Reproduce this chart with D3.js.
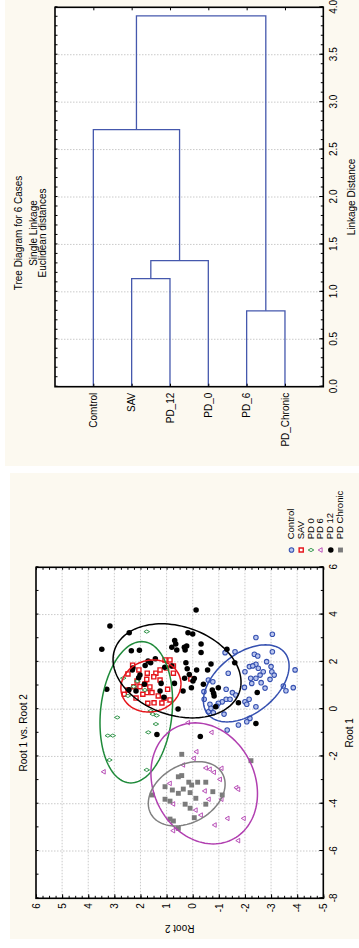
<!DOCTYPE html>
<html>
<head>
<meta charset="utf-8">
<script src="https://cdn.jsdelivr.net/npm/d3@7"></script>
<style>
  body { margin: 0; background: #ffffff; }
  svg { display: block; font-family: "Liberation Sans", Arial, sans-serif; }
</style>
</head>
<body>
<svg id="chart" width="359" height="948"></svg>
<script>
// ---------- Tree diagram data ----------
const leafNames = ["Comtrol", "SAV", "PD_12", "PD_0", "PD_6", "PD_Chronic"];
const joinLeft = ["SAV", "PD_6", "SAV|PD_12", "Comtrol", "Comtrol|SAV|PD_12|PD_0"];
const joinRight = ["PD_12", "PD_Chronic", "PD_0", "SAV|PD_12|PD_0", "PD_6|PD_Chronic"];
const joinDistance = [1.14, 0.80, 1.33, 2.71, 3.91];
const distanceTicks = [0, 0.5, 1, 1.5, 2, 2.5, 3, 3.5, 4];
const treeTitle = ["Tree Diagram for 6 Cases", "Single Linkage", "Euclidean distances"];

// ---------- Canonical scores ----------
const groupNames = ["Control", "SAV", "PD 0", "PD 6", "PD 12", "PD Chronic"];

const controlRoot1 = [3.03,3.17,2.32,2.25,2.43,2.43,2.39,1.80,2.01,1.90,1.73,1.58,1.80,1.58,1.44,1.66,1.52,1.58,1.31,1.44,1.31,1.12,1.09,1.26,1.16,1.23,0.92,0.84,0.70,0.98,0.91,0.78,0.74,0.60,0.42,0.42,0.31,0.25,0.31,0.42,0.10,0.21,0.21,0.13,0.42,-0.11,-0.21,-0.15,-0.39,-0.53,-0.67,-0.88,0.04,1.83,0.89];
const controlRoot2 = [-2.42,-3.05,-2.36,-2.49,-3.05,-1.62,-1.24,-2.17,-2.83,-2.42,-2.51,-2.70,-3.00,-3.03,-3.12,-3.92,-1.36,-2.00,-2.22,-2.58,-2.42,-2.62,-2.26,-2.96,-0.77,-0.60,-1.98,-1.28,-1.52,-3.47,-3.85,-3.57,-0.43,-1.65,-1.28,-1.43,-1.13,-0.98,-2.00,-2.16,-2.42,-2.07,-0.66,-0.92,-0.44,-0.60,-1.20,-0.79,-2.19,-2.07,-1.75,-1.32,-0.70,-2.30,-2.77];

const savRoot1 = [1.86,1.66,1.52,1.52,1.37,1.26,0.95,0.70,0.70,0.56,0.84,0.63,0.25,0.27,2.08,1.83,1.74,0.63,0.95,1.06,1.52,0.46,1.66,1.28,0.81,1.19,0.94,1.23,0.26,0.47,0.39,1.49,2.08];
const savRoot2 = [2.30,2.06,1.74,1.41,1.49,1.76,2.02,1.76,1.56,1.32,0.96,1.91,1.72,1.48,0.87,0.74,1.00,2.62,2.25,1.83,0.74,1.10,1.25,0.07,2.48,2.13,1.64,1.25,1.18,2.17,0.87,2.48,1.06];

const pd0Root1 = [3.28,1.31,1.19,0.95,-0.08,-0.21,-0.27,-0.63,-0.35,-1.12,-1.12,-0.98,-2.15,-2.57,0.81,0.56];
const pd0Root2 = [1.76,2.66,2.12,2.26,1.61,1.53,1.38,1.41,2.89,3.25,3.06,1.70,3.19,1.76,1.83,2.48];

const pd6Root1 = [-0.57,-0.98,-1.80,-2.08,-2.36,-2.49,-2.54,-2.67,-2.50,-2.97,-3.14,-3.32,-3.39,-3.46,-3.81,-3.81,-4.01,-4.27,-4.48,-4.62,-4.62,-4.90,-5.14,-5.56,-2.65];
const pd6Root2 = [0.17,-0.73,-0.15,-0.05,0.36,-0.51,-0.66,-0.82,-1.11,-1.05,0.87,-1.68,-1.75,-0.47,-0.62,-1.11,0.74,-0.12,-0.32,-1.34,-1.96,-0.85,0.74,-1.75,3.40];

const pd12Root1 = [3.52,3.23,2.53,2.47,2.49,2.13,1.66,1.85,1.96,1.33,1.05,0.84,0.82,0.77,0.77,0.50,1.77,1.83,1.09,0.01,0.77,1.31,0.91,1.19,1.71,1.96,4.19,3.23,3.18,2.90,2.76,2.62,2.62,2.67,2.50,2.50,2.76,2.40,1.66,-1.16,-1.07,1.91,1.66,2.53,1.96,1.47,1.30,1.05,0.81,0.67,0.91,0.56,0.10,0.27,-0.61,0.70,1.09,1.44,2.04,1.74];
const pd12Root2 = [3.17,2.43,3.48,2.35,2.04,1.43,2.31,1.82,1.61,2.07,1.85,3.29,2.44,2.17,1.25,1.10,1.07,0.80,0.70,0.56,0.37,0.31,0.05,-0.01,0.21,0.26,-0.13,0.18,0.00,0.69,0.65,0.80,0.32,0.23,0.29,0.61,-0.32,-0.32,-0.15,-0.29,1.37,-0.70,-0.57,-1.31,-1.61,0.13,-0.06,-0.41,-0.75,-0.80,-0.98,-0.82,-0.88,-1.75,-2.42,-2.47,1.21,2.02,1.71,2.29];

const chronicRoot1 = [-1.91,-2.18,-2.86,-2.81,-3.28,-3.42,-3.09,-3.21,-3.09,-3.09,-3.38,-3.56,-3.53,-3.49,-3.63,-3.63,-3.77,-3.81,-3.89,-4.02,-4.19,-4.02,-4.59,-4.65,-4.73,-5.04];
const chronicRoot2 = [0.42,-2.23,0.55,0.42,1.06,0.78,0.15,0.04,-0.19,-0.50,0.36,0.55,0.10,-0.77,1.55,-1.13,-0.12,1.06,0.87,0.29,0.10,-0.50,-0.06,0.87,0.74,0.55];

// 95% ellipse per group (centre, half-extent along each root, correlation)
const ellipseCenter1 = [1.09, 0.98, -0.13, -3.14, 1.62, -3.58];
const ellipseCenter2 = [-2.05, 1.60, 2.16, -0.44, 0.60, 0.23];
const ellipseHalf1 = [1.63, 1.10, 2.99, 2.56, 1.99, 1.36];
const ellipseHalf2 = [1.64, 1.15, 1.39, 2.04, 2.45, 1.47];
const ellipseRho = [-0.45, -0.08, -0.15, 0.17, 0.24, -0.30];

const root1Ticks = [-8, -6, -4, -2, 0, 2, 4, 6];
const root2Ticks = [-5, -4, -3, -2, -1, 0, 1, 2, 3, 4, 5, 6];

// ---------- Styles ----------
const groupRoot1 = [controlRoot1, savRoot1, pd0Root1, pd6Root1, pd12Root1, chronicRoot1];
const groupRoot2 = [controlRoot2, savRoot2, pd0Root2, pd6Root2, pd12Root2, chronicRoot2];
const groupStroke = ["#3550b0", "#e5161c", "#1f8a3a", "#b13fb0", "#000000", "#7b7b7b"];
const groupFill = ["#b9c5ee", "#ffffff", "#ffffff", "#ffffff", "#000000", "#7b7b7b"];
const groupSymbol = [d3.symbolCircle, d3.symbolSquare, d3.symbolDiamond, d3.symbolTriangle, d3.symbolCircle, d3.symbolSquare];
const groupSize = [16, 17, 9, 9, 24, 24];
const groupStrokeWidth = [1.1, 1.4, 0.9, 0.9, 0, 0];
const ellipseStroke = ["#3550b0", "#e5161c", "#1f8a3a", "#b13fb0", "#000000", "#808080"];

const panelFill = "#fcf9f0";
const gridColor = "#bdbdbd";
const fontSize = 10;
const plainNumber = d => String(d);   // hyphen-minus, as printed on the axes

const svg = d3.select("#chart");

// Panel backgrounds
svg.append("rect").attr("x", 5).attr("y", 0).attr("width", 354).attr("height", 466).attr("fill", panelFill);
svg.append("rect").attr("x", 10).attr("y", 473).attr("width", 349).attr("height", 466).attr("fill", panelFill);

// ================= Tree diagram (drawn in its own frame, turned a quarter) =================
const dW = 379.4, dH = 268.3;
const tree = svg.append("g").attr("transform", "translate(55,386.7) rotate(-90)");
const dist = d3.scaleLinear().domain([0, 4]).range([0, dW]);
const leafPos = d3.scalePoint().domain(leafNames).range([0, dH]).padding(1);

tree.append("rect").attr("width", dW).attr("height", dH).attr("fill", "#ffffff");

// grid
tree.append("g").selectAll("line")
  .data(distanceTicks.filter(d => d > 0 && d < 4))
  .join("line")
  .attr("x1", d => dist(d)).attr("x2", d => dist(d))
  .attr("y1", 0).attr("y2", dH)
  .attr("stroke", gridColor).attr("stroke-width", 0.8).attr("stroke-dasharray", "1.5,1.5");

// links
const nodes = {};
leafNames.forEach(n => { nodes[n] = { pos: leafPos(n), h: 0 }; });
joinLeft.forEach((a, i) => {
  const b = joinRight[i];
  const na = nodes[a], nb = nodes[b], h = joinDistance[i];
  const p = d3.path();
  p.moveTo(dist(na.h), na.pos);
  p.lineTo(dist(h), na.pos);
  p.lineTo(dist(h), nb.pos);
  p.lineTo(dist(nb.h), nb.pos);
  tree.append("path").attr("d", p.toString())
    .attr("fill", "none").attr("stroke", "#4558ad").attr("stroke-width", 1.3);
  nodes[a + "|" + b] = { pos: (na.pos + nb.pos) / 2, h: h };
});

// distance axis (labelled side) and minor ticks
const minorDist = d3.range(0, 41).map(i => i / 10);
tree.append("g").attr("transform", `translate(0,${dH})`)
  .call(d3.axisBottom(dist).tickValues(distanceTicks).tickFormat(d3.format(".1f"))
    .tickSizeInner(-4).tickSizeOuter(0).tickPadding(7));
tree.append("g").attr("transform", `translate(0,${dH})`)
  .call(d3.axisBottom(dist).tickValues(minorDist).tickFormat("").tickSizeInner(-2.5).tickSizeOuter(0));
tree.append("g")
  .call(d3.axisTop(dist).tickValues(minorDist).tickFormat("").tickSizeInner(-2.5).tickSizeOuter(0));

// leaf axis
tree.append("g")
  .call(d3.axisLeft(leafPos).tickSizeInner(-3).tickSizeOuter(0).tickPadding(6));
tree.append("g").attr("transform", `translate(${dW},0)`)
  .call(d3.axisRight(leafPos).tickFormat("").tickSizeInner(-3).tickSizeOuter(0));

tree.selectAll(".domain").remove();
tree.selectAll(".tick line").attr("stroke", "#000").attr("stroke-width", 1);
tree.selectAll(".tick text").attr("fill", "#000").attr("font-size", fontSize)
  .attr("font-family", "Liberation Sans, Arial, sans-serif");

// frame
tree.append("rect").attr("width", dW).attr("height", dH)
  .attr("fill", "none").attr("stroke", "#000").attr("stroke-width", 1.6);

// axis title
tree.append("text").attr("x", dW / 2).attr("y", dH + 32)
  .attr("text-anchor", "middle").attr("font-size", fontSize).text("Linkage Distance");

// chart title
const titleBase = [-33.5, -18.5, -9.3];
treeTitle.forEach((t, i) => {
  tree.append("text").attr("x", 153.7).attr("y", titleBase[i])
    .attr("text-anchor", "middle").attr("font-size", fontSize).text(t);
});

// ================= Scatterplot of canonical scores (turned a quarter) =================
const sW = 331, sH = 287.3;
const plot = svg.append("g").attr("transform", "translate(36,898.3) rotate(-90)");
const root1 = d3.scaleLinear().domain([-8, 6]).range([0, sW]);
const root2 = d3.scaleLinear().domain([-5, 6]).range([sH, 0]);

plot.append("rect").attr("width", sW).attr("height", sH).attr("fill", "#ffffff");

// grid
plot.append("g").selectAll("line")
  .data(root1Ticks.filter(d => d > -8 && d < 6))
  .join("line")
  .attr("x1", d => root1(d)).attr("x2", d => root1(d))
  .attr("y1", 0).attr("y2", sH)
  .attr("stroke", gridColor).attr("stroke-width", 0.8).attr("stroke-dasharray", "1.5,1.5");
plot.append("g").selectAll("line")
  .data(root2Ticks.filter(d => d > -5 && d < 6))
  .join("line")
  .attr("x1", 0).attr("x2", sW)
  .attr("y1", d => root2(d)).attr("y2", d => root2(d))
  .attr("stroke", gridColor).attr("stroke-width", 0.8).attr("stroke-dasharray", "1.5,1.5");

// axes
const minor1 = d3.range(-8, 7);
const minor2 = d3.range(-20, 25).map(i => i / 4);
plot.append("g").attr("transform", `translate(0,${sH})`)
  .call(d3.axisBottom(root1).tickValues(root1Ticks).tickFormat(plainNumber)
    .tickSizeInner(-4).tickSizeOuter(0).tickPadding(6.5));
plot.append("g").attr("transform", `translate(0,${sH})`)
  .call(d3.axisBottom(root1).tickValues(minor1).tickFormat("").tickSizeInner(-2.5).tickSizeOuter(0));
plot.append("g")
  .call(d3.axisTop(root1).tickValues(minor1).tickFormat("").tickSizeInner(-2.5).tickSizeOuter(0));
plot.append("g")
  .call(d3.axisLeft(root2).tickValues(root2Ticks).tickFormat(plainNumber)
    .tickSizeInner(-4).tickSizeOuter(0).tickPadding(5));
plot.append("g")
  .call(d3.axisLeft(root2).tickValues(minor2).tickFormat("").tickSizeInner(-2.5).tickSizeOuter(0));
plot.append("g").attr("transform", `translate(${sW},0)`)
  .call(d3.axisRight(root2).tickValues(minor2).tickFormat("").tickSizeInner(-2.5).tickSizeOuter(0));

plot.selectAll(".domain").remove();
plot.selectAll(".tick line").attr("stroke", "#000").attr("stroke-width", 1);
plot.selectAll(".tick text").attr("fill", "#000").attr("font-size", fontSize)
  .attr("font-family", "Liberation Sans, Arial, sans-serif");

// points
const symbolGen = d3.symbol();
groupNames.forEach((g, gi) => {
  const pts = groupRoot1[gi].map((r1, k) => [r1, groupRoot2[gi][k]]);
  plot.append("g").selectAll("path")
    .data(pts)
    .join("path")
    .attr("transform", d => `translate(${root1(d[0])},${root2(d[1])})`)
    .attr("d", symbolGen.type(groupSymbol[gi]).size(groupSize[gi])())
    .attr("fill", groupFill[gi])
    .attr("stroke", groupStrokeWidth[gi] > 0 ? groupStroke[gi] : "none")
    .attr("stroke-width", groupStrokeWidth[gi]);
});

// ellipses
const ellipseLine = d3.line()
  .x(d => root1(d[0])).y(d => root2(d[1]))
  .curve(d3.curveLinearClosed);
groupNames.forEach((g, gi) => {
  const c1 = ellipseCenter1[gi], c2 = ellipseCenter2[gi];
  const a = ellipseHalf1[gi], b = ellipseHalf2[gi], r = ellipseRho[gi];
  const s = Math.sqrt(1 - r * r);
  const ring = d3.range(0, 120).map(k => {
    const t = k / 120 * 2 * Math.PI;
    return [c1 + a * Math.cos(t), c2 + b * (r * Math.cos(t) + s * Math.sin(t))];
  });
  plot.append("path").attr("d", ellipseLine(ring))
    .attr("fill", "none").attr("stroke", ellipseStroke[gi]).attr("stroke-width", 1.5);
});

// frame
plot.append("rect").attr("width", sW).attr("height", sH)
  .attr("fill", "none").attr("stroke", "#000").attr("stroke-width", 1.6);

// titles
plot.append("text").attr("x", sW / 2).attr("y", -9)
  .attr("text-anchor", "middle").attr("font-size", fontSize).text("Root 1 vs. Root 2");
plot.append("text").attr("x", sW / 2).attr("y", 316.5)
  .attr("text-anchor", "middle").attr("font-size", fontSize).text("Root 1");
plot.append("text").attr("transform", `translate(-26.2,${sH / 2}) rotate(-90)`)
  .attr("text-anchor", "middle").attr("font-size", fontSize).text("Root 2");

// legend
const legendBase = [258, 267.7, 277.5, 287.3, 297.3, 307];
const legend = plot.append("g");
groupNames.forEach((g, gi) => {
  legend.append("path")
    .attr("transform", `translate(348.3,${legendBase[gi] - 2.5})`)
    .attr("d", symbolGen.type(groupSymbol[gi]).size(groupSize[gi])())
    .attr("fill", groupFill[gi])
    .attr("stroke", groupStrokeWidth[gi] > 0 ? groupStroke[gi] : "none")
    .attr("stroke-width", groupStrokeWidth[gi]);
  legend.append("text").attr("x", 359).attr("y", legendBase[gi])
    .attr("font-size", 9.5).text(g);
});
</script>
</body>
</html>
